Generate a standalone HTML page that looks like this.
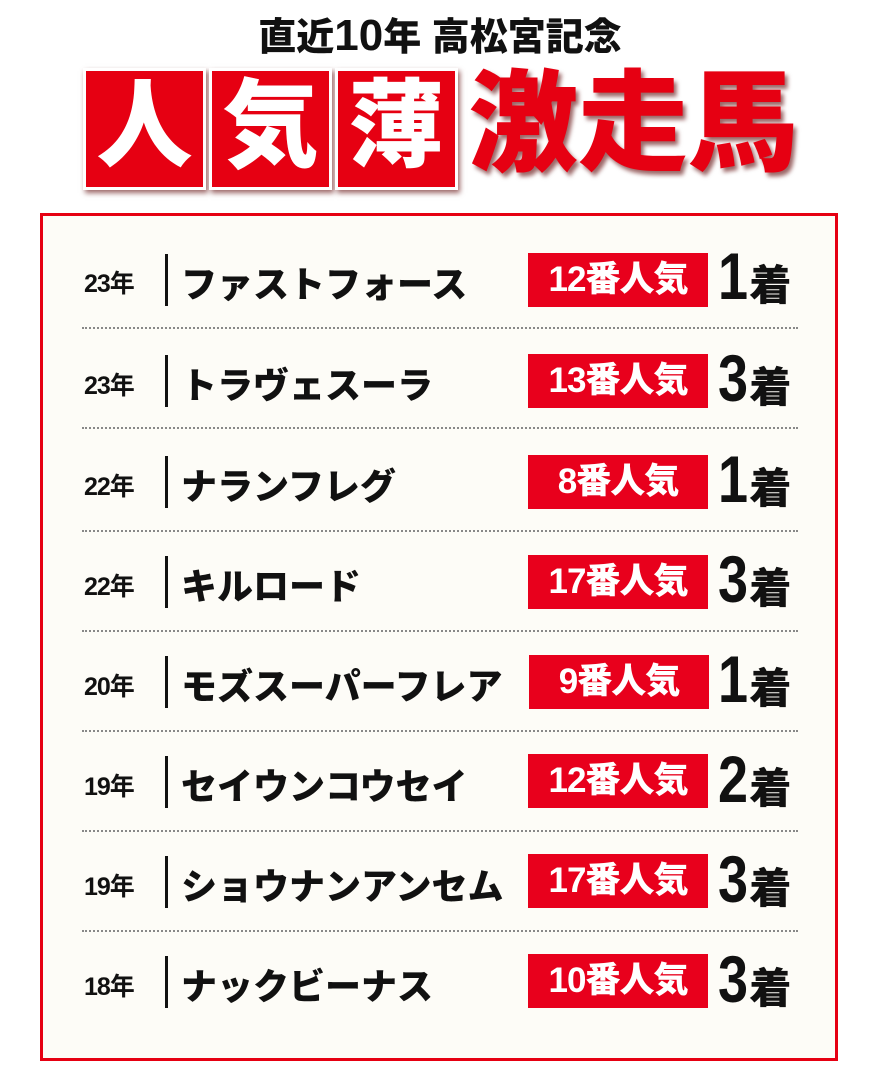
<!DOCTYPE html>
<html><head><meta charset="utf-8"><style>
*{margin:0;padding:0;box-sizing:border-box}
body{width:880px;height:1071px;background:#fff;position:relative;overflow:hidden;font-family:"Liberation Sans","Noto Sans CJK JP",sans-serif;font-weight:bold;color:#111}
.a{position:absolute;white-space:nowrap}
.t1{left:0;width:880px;text-align:center;top:6px;font-size:38px;font-weight:900;letter-spacing:0px}
.box{top:68px;width:123px;height:122px;background:#e60012;border:3px solid #fff;box-shadow:2px 3px 5px rgba(90,0,0,.6);color:#fff;font-size:96px;font-weight:900;text-align:center;line-height:112px}
.big{left:468px;top:60px;font-size:110px;font-weight:900;color:#e60012;-webkit-text-stroke:5px #fff;paint-order:stroke fill;text-shadow:3px 4px 4px rgba(90,0,0,.6);letter-spacing:0px;line-height:130px}
.frame{left:40px;top:213px;width:798px;height:848px;border:3px solid #e60012;background:#fdfcf7}
.yr{left:84px;font-size:25px;font-weight:bold;letter-spacing:-1px}
.bar{left:165px;width:3px;height:52px;background:#111}
.nm{left:181px;font-size:36px;font-weight:900;letter-spacing:0px}
.bd{width:180px;height:54px;background:#e8001c;color:#fff;font-size:35px;font-weight:900;text-align:center;line-height:54px;letter-spacing:-1px}
.rk{left:718px;font-size:60px;font-weight:900;letter-spacing:-2px;line-height:60px}
.rk b{display:inline-block;transform:scale(0.9,1.1);transform-origin:left bottom}
.rk span{font-size:42px}
.dot{left:82px;width:716px;height:0;border-top:2px dotted #888}
</style></head><body>
<div class="a t1">直近<span style="font-size:44px">10</span>年 高松宮記念</div>
<div class="a box" style="left:83px">人</div>
<div class="a box" style="left:209px">気</div>
<div class="a box" style="left:335px">薄</div>
<div class="a big">激走馬</div>
<div class="a frame"></div>

<div class="a yr" style="top:264px">23年</div><div class="a bar" style="top:254px"></div><div class="a nm" style="top:256px">ファストフォース</div><div class="a bd" style="left:528px;top:253px">12番人気</div><div class="a rk" style="top:250px"><b>1</b><span>着</span></div>
<div class="a dot" style="top:327px"></div>
<div class="a yr" style="top:366px">23年</div><div class="a bar" style="top:355px"></div><div class="a nm" style="top:357px">トラヴェスーラ</div><div class="a bd" style="left:528px;top:354px">13番人気</div><div class="a rk" style="top:352px"><b>3</b><span>着</span></div>
<div class="a dot" style="top:427px"></div>
<div class="a yr" style="top:467px">22年</div><div class="a bar" style="top:456px"></div><div class="a nm" style="top:458px">ナランフレグ</div><div class="a bd" style="left:528px;top:455px">8番人気</div><div class="a rk" style="top:453px"><b>1</b><span>着</span></div>
<div class="a dot" style="top:530px"></div>
<div class="a yr" style="top:567px">22年</div><div class="a bar" style="top:556px"></div><div class="a nm" style="top:558px">キルロード</div><div class="a bd" style="left:528px;top:555px">17番人気</div><div class="a rk" style="top:553px"><b>3</b><span>着</span></div>
<div class="a dot" style="top:630px"></div>
<div class="a yr" style="top:667px">20年</div><div class="a bar" style="top:656px"></div><div class="a nm" style="top:658px">モズスーパーフレア</div><div class="a bd" style="left:529px;top:655px">9番人気</div><div class="a rk" style="top:653px"><b>1</b><span>着</span></div>
<div class="a dot" style="top:730px"></div>
<div class="a yr" style="top:767px">19年</div><div class="a bar" style="top:756px"></div><div class="a nm" style="top:758px">セイウンコウセイ</div><div class="a bd" style="left:528px;top:754px">12番人気</div><div class="a rk" style="top:753px"><b>2</b><span>着</span></div>
<div class="a dot" style="top:830px"></div>
<div class="a yr" style="top:867px">19年</div><div class="a bar" style="top:856px"></div><div class="a nm" style="top:858px">ショウナンアンセム</div><div class="a bd" style="left:528px;top:854px">17番人気</div><div class="a rk" style="top:853px"><b>3</b><span>着</span></div>
<div class="a dot" style="top:930px"></div>
<div class="a yr" style="top:967px">18年</div><div class="a bar" style="top:956px"></div><div class="a nm" style="top:958px">ナックビーナス</div><div class="a bd" style="left:528px;top:954px">10番人気</div><div class="a rk" style="top:953px"><b>3</b><span>着</span></div>
</body></html>
